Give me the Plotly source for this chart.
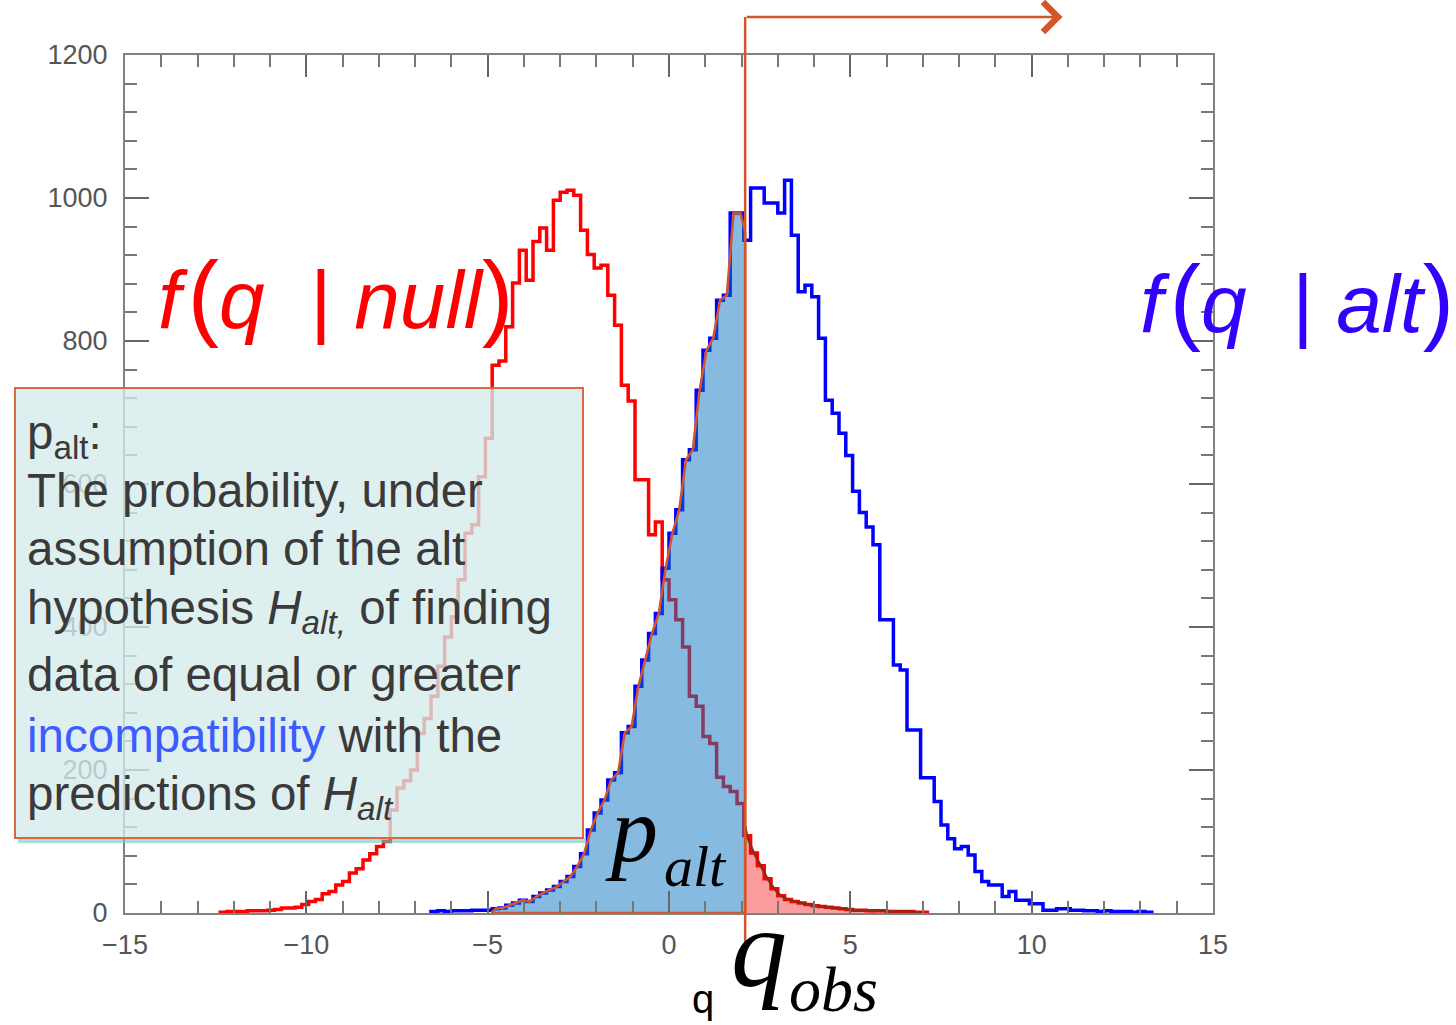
import numpy as np
import plotly.graph_objects as go

# ---------------- data ----------------
BIN_WIDTH = 0.1875
red_first_edge = -12.375
red_counts = [1, 2, 2, 2, 3, 3, 3, 4, 5, 7, 7, 8, 12, 16, 19, 27, 30, 39, 44, 56,
              62, 74, 83, 93, 100, 144, 175, 185, 200, 251, 272, 303, 345, 386, 414, 466,
              531, 543, 610, 664, 766, 772, 820, 881, 927, 885, 939, 958, 927, 997,
              1008, 1011, 1004, 955, 921, 902, 906, 864, 822, 738, 716, 606, 606, 529,
              547, 466, 438, 410, 372, 303, 289, 247, 237, 190, 177, 170, 153, 108,
              84, 66, 48, 34, 24, 19, 16, 14, 12, 10, 9, 8, 7, 6, 5, 4, 4, 3, 3, 3,
              2, 2, 2, 2, 1, 1]
blue_first_edge = -6.5625
blue_counts = [2, 3, 2, 3, 3, 3, 4, 4, 4, 6, 7, 11, 14, 18, 16, 23, 28, 32, 37, 44,
               51, 65, 83, 116, 140, 158, 186, 196, 252, 261, 317, 354, 391, 419, 482,
               531, 564, 634, 648, 731, 787, 804, 857, 864, 979, 979, 941, 1014, 1014,
               993, 993, 979, 1025, 948, 869, 878, 862, 804, 717, 699, 671, 640, 590,
               560, 540, 515, 410, 410, 347, 340, 256, 256, 189, 189, 156, 123, 104, 90,
               93, 81, 58, 44, 39, 39, 23, 30, 18, 18, 13, 13, 4, 4, 6, 6, 4, 4, 3, 3,
               2, 3, 2, 2, 2, 1, 2, 1]
q_obs = 2.1
alt_fill_start = -4.9
arrow_end_q = 10.85
x_range = [-15, 15]
y_range = [0, 1200]
x_major_step, x_minor_step = 5, 1
y_major_step, y_minor_step = 200, 40

box_lines = [
    "p<sub>alt</sub>:",
    "The probability, under",
    "assumption of the alt",
    "hypothesis <i>H<sub>alt,</sub></i> of finding",
    "data of equal or greater",
    "<span style='color:#3d5bff'>incompatibility</span> with the",
    "predictions of <i>H<sub>alt</sub></i>",
]
box_line_baselines = [448, 506, 564, 623, 690, 751, 809]   # pixel rows

# ---------------- layout geometry (pixels) ----------------
W, H = 1456, 1025
ML, MR, MT, MB = 125, 243, 55, 112
PW, PH = W - ML - MR, H - MT - MB


def px_x(px):
    return (px - ML) / PW


def px_y(py):
    return (H - MB - py) / PH


ORANGE = '#d4542b'


def hist_edges(first, counts):
    return first + BIN_WIDTH * np.arange(len(counts) + 1)


def step_xy(first, counts):
    e = hist_edges(first, counts)
    xs = np.concatenate([[e[0]], e[:-1], [e[-1]]])
    ys = np.concatenate([[0], counts, [0]])
    return xs, ys


red_c = np.array(red_counts, dtype=float)
blue_c = np.array(blue_counts, dtype=float)
red_e = hist_edges(red_first_edge, red_c)
blue_e = hist_edges(blue_first_edge, blue_c)
red_mid = red_e[:-1] + BIN_WIDTH / 2
blue_mid = blue_e[:-1] + BIN_WIDTH / 2

fig = go.Figure()

# red tail fill (q > q_obs), stepped under the red histogram
i_r = int(np.floor((q_obs - red_first_edge) / BIN_WIDTH))
tx = np.concatenate([[q_obs], red_e[i_r + 1:]])
ty = np.concatenate([[red_c[i_r]], red_c[i_r + 1:], [red_c[-1]]])
fig.add_trace(go.Scatter(x=tx, y=ty, mode='lines', line=dict(width=0, shape='hv'),
                         fill='tozeroy', fillcolor='rgba(250,110,110,0.68)',
                         hoverinfo='skip'))

# histograms
rx, ry = step_xy(red_first_edge, red_c)
fig.add_trace(go.Scatter(x=rx, y=ry, mode='lines',
                         line=dict(color='#ff0000', width=3.5, shape='hv')))
bx, by = step_xy(blue_first_edge, blue_c)
fig.add_trace(go.Scatter(x=bx, y=by, mode='lines',
                         line=dict(color='#0000ff', width=3.5, shape='hv')))

# p_alt region under the alt distribution (q < q_obs)
m = (blue_mid >= alt_fill_start) & (blue_mid <= q_obs)
top_at_obs = float(np.interp(q_obs, blue_mid, blue_c))
px_ = np.concatenate([[alt_fill_start], blue_mid[m], [q_obs, q_obs, alt_fill_start]])
py_ = np.concatenate([[0], blue_c[m], [top_at_obs, 0, 0]])
fig.add_trace(go.Scatter(x=px_, y=py_, mode='lines', fill='toself',
                         fillcolor='rgba(14,118,196,0.5)',
                         line=dict(color=ORANGE, width=2.5), hoverinfo='skip'))

# outline of the red tail
mr = (red_mid > q_obs)
ox = np.concatenate([[q_obs], red_mid[mr]])
oy = np.concatenate([[float(np.interp(q_obs, red_mid, red_c))], red_c[mr]])
fig.add_trace(go.Scatter(x=ox, y=oy, mode='lines', line=dict(color='#8e2b14', width=2.5),
                         line_shape='spline', hoverinfo='skip'))

# ---------------- shapes ----------------
box = dict(x0=px_x(15), x1=px_x(583), y0=px_y(838), y1=px_y(388))
shapes = [
    dict(type='line', xref='x', yref='paper', x0=q_obs, x1=q_obs,
         y0=px_y(950), y1=px_y(17), line=dict(color=ORANGE, width=2.5), layer='above'),
    dict(type='rect', xref='paper', yref='paper', x0=box['x0'] + 3 / PW, x1=box['x1'] + 3 / PW,
         y0=box['y0'] - 5 / PH, y1=box['y0'], fillcolor='rgba(110,200,200,0.6)',
         line=dict(width=0), layer='above'),
    dict(type='rect', xref='paper', yref='paper', **box,
         fillcolor='rgba(213,234,234,0.78)', line=dict(color='#dc6840', width=2),
         layer='above'),
]

# ---------------- annotations ----------------
BOX_FS = 47.5
ann = []
for txt, base in zip(box_lines, box_line_baselines):
    ann.append(dict(text=txt, xref='paper', yref='paper', x=px_x(25),
                    y=px_y(base - 1 - 0.905 * BOX_FS), xanchor='left', yanchor='top',
                    align='left', showarrow=False,
                    font=dict(family='Liberation Sans', size=BOX_FS, color='#3a3a3a')))

PAREN = "<span style='font-size:94px'>%s</span>"
null_txt = ("<i>f</i>\u200a" + PAREN % "(" + "<i>q</i>&nbsp;&nbsp;|&nbsp;<i>null</i>"
            + PAREN % ")")
alt_txt = ("<i>f</i>\u200a" + PAREN % "(" + "<i>q</i>&nbsp;&nbsp;|&nbsp;<i>alt</i>"
           + PAREN % ")")
ann += [
    dict(text=null_txt, xref='paper', yref='paper',
         x=px_x(156), y=px_y(295), xanchor='left', yanchor='middle', showarrow=False,
         font=dict(family='Liberation Sans', size=82, color='#ff0000')),
    dict(text=alt_txt, xref='paper', yref='paper',
         x=px_x(1138), y=px_y(299), xanchor='left', yanchor='middle', showarrow=False,
         font=dict(family='Liberation Sans', size=82, color='#3300ff')),
    dict(text="<i>p</i>", xref='paper', yref='paper', x=px_x(603), y=px_y(829),
         xanchor='left', yanchor='middle', showarrow=False,
         font=dict(family='Liberation Serif', size=94, color='black')),
    dict(text="<i>alt</i>", xref='paper', yref='paper', x=px_x(662), y=px_y(866),
         xanchor='left', yanchor='middle', showarrow=False,
         font=dict(family='Liberation Serif', size=58, color='black')),
    dict(text="<i>q</i>", xref='paper', yref='paper', x=px_x(729), y=px_y(948),
         xanchor='left', yanchor='middle', showarrow=False,
         font=dict(family='Liberation Serif', size=112, color='black')),
    dict(text="<i>obs</i>", xref='paper', yref='paper', x=px_x(787), y=px_y(990),
         xanchor='left', yanchor='middle', showarrow=False,
         font=dict(family='Liberation Serif', size=64, color='black')),
    dict(text="q", xref='paper', yref='paper', x=px_x(690), y=px_y(999),
         xanchor='left', yanchor='middle', showarrow=False,
         font=dict(family='Liberation Sans', size=40, color='black')),
    dict(text='', xref='x', yref='paper', x=arrow_end_q, y=px_y(17),
         axref='x', ax=q_obs, ayref='pixel', ay=0, showarrow=True,
         arrowhead=4, arrowsize=2.3, arrowwidth=2.5, arrowcolor=ORANGE),
]

tickfont = dict(family='Liberation Sans', size=27, color='#555555')
fig.update_xaxes(range=x_range, tick0=0, dtick=x_major_step, ticks='inside', ticklen=22,
                 tickwidth=2, tickcolor='#666666', showline=True, linecolor='#808080',
                 linewidth=2, mirror='ticks', showgrid=False, zeroline=False,
                 tickfont=tickfont, ticklabelstandoff=7,
                 minor=dict(dtick=x_minor_step, ticklen=12, tickwidth=2,
                            tickcolor='#777777', ticks='inside', showgrid=False))
fig.update_yaxes(range=y_range, tick0=0, dtick=y_major_step, ticks='inside', ticklen=24,
                 tickwidth=2, tickcolor='#666666', showline=True, linecolor='#808080',
                 linewidth=2, mirror='ticks', showgrid=False, zeroline=False,
                 tickfont=tickfont, ticklabelstandoff=10,
                 minor=dict(dtick=y_minor_step, ticklen=12, tickwidth=2,
                            tickcolor='#777777', ticks='inside', showgrid=False))
fig.update_layout(width=W, height=H, margin=dict(l=ML, r=MR, t=MT, b=MB),
                  plot_bgcolor='white', paper_bgcolor='white', showlegend=False,
                  shapes=shapes, annotations=ann)
fig.write_html("out.html")
